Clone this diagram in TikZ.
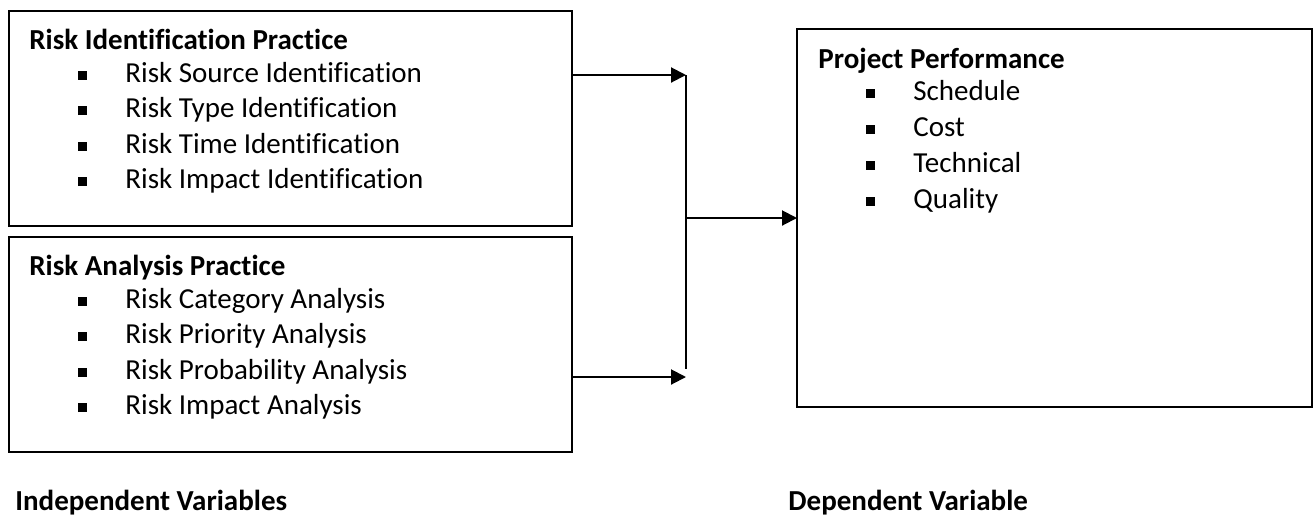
\documentclass[tikz,border=0pt]{standalone}
\usepackage{fontspec}
\setmainfont{Carlito}[Ligatures=NoCommon]
\usepackage{tikz}
\usetikzlibrary{calc,arrows.meta}
\newcommand{\bul}{\makebox[0pt][r]{\raisebox{1.15pt}{\rule{4.5pt}{4.5pt}}\hspace{19pt}}}

\begin{document}
\begin{tikzpicture}[x=0.5pt,y=-0.5pt,font=\fontsize{14.5}{17.75}\selectfont,
  box/.style={draw,rectangle,line width=0.65pt,inner sep=0pt,outer sep=0pt},
  head/.style={anchor=base west,inner sep=0pt,font=\fontsize{14.5}{17.75}\selectfont\bfseries},
  entry/.style={anchor=base west,inner sep=0pt},
  flow/.style={-{Triangle[length=7.5pt,width=7.5pt]},line width=1pt}]
\useasboundingbox (0,0) rectangle (1316,515);

\draw node [box,minimum width=281.5pt,minimum height=107.5pt] at (290.5,118.5) (identbox){};
\draw node [head] at ($ (identbox.north west)+(20,38)$) (identhead){Risk Identification Practice};
\draw node [entry] at ($ (identbox.north west)+(116,71)$) (identsrc){\bul Risk Source Identification};
\draw node [entry] at ($ (identbox.north west)+(116,106.5)$) (identtype){\bul Risk Type Identification};
\draw node [entry] at ($ (identbox.north west)+(116,142)$) (identtime){\bul Risk Time Identification};
\draw node [entry] at ($ (identbox.north west)+(116,177.5)$) (identimp){\bul Risk Impact Identification};

\draw node [box,minimum width=281.5pt,minimum height=107.5pt] at (290.5,344.5) (analysbox){};
\draw node [head] at ($ (analysbox.north west)+(20,38)$) (analyshead){Risk Analysis Practice};
\draw node [entry] at ($ (analysbox.north west)+(116,71)$) (analyscat){\bul Risk Category Analysis};
\draw node [entry] at ($ (analysbox.north west)+(116,106.5)$) (analysprio){\bul Risk Priority Analysis};
\draw node [entry] at ($ (analysbox.north west)+(116,142)$) (analysprob){\bul Risk Probability Analysis};
\draw node [entry] at ($ (analysbox.north west)+(116,177.5)$) (analysimp){\bul Risk Impact Analysis};

\draw node [box,minimum width=257.5pt,minimum height=189pt] at (1054.5,218) (perfbox){};
\draw node [head] at ($ (perfbox.north west)+(21,39)$) (perfhead){Project Performance};
\draw node [entry] at ($ (perfbox.north west)+(116,71)$) (perfsched){\bul Schedule};
\draw node [entry] at ($ (perfbox.north west)+(116,107)$) (perfcost){\bul Cost};
\draw node [entry] at ($ (perfbox.north west)+(116,143)$) (perftech){\bul Technical};
\draw node [entry] at ($ (perfbox.north west)+(116,179)$) (perfqual){\bul Quality};

% joining line between the practices and the performance box
\coordinate (jtop) at (686,75);
\coordinate (jbot) at (686,369);
\coordinate (jend) at (686,377);
\draw[flow] (identbox.east |- jtop) -- (jtop);
\draw[flow] (analysbox.east |- jend) -- (jend);
\draw[line width=0.65pt] (jtop) -- (jbot);
\draw[flow] (jtop |- perfbox.west) -- (perfbox.west);

\draw node [head] at (15,510) (indeplabel){Independent Variables};
\draw node [head] at (788,510) (deplabel){Dependent Variable};

\end{tikzpicture}
\end{document}
